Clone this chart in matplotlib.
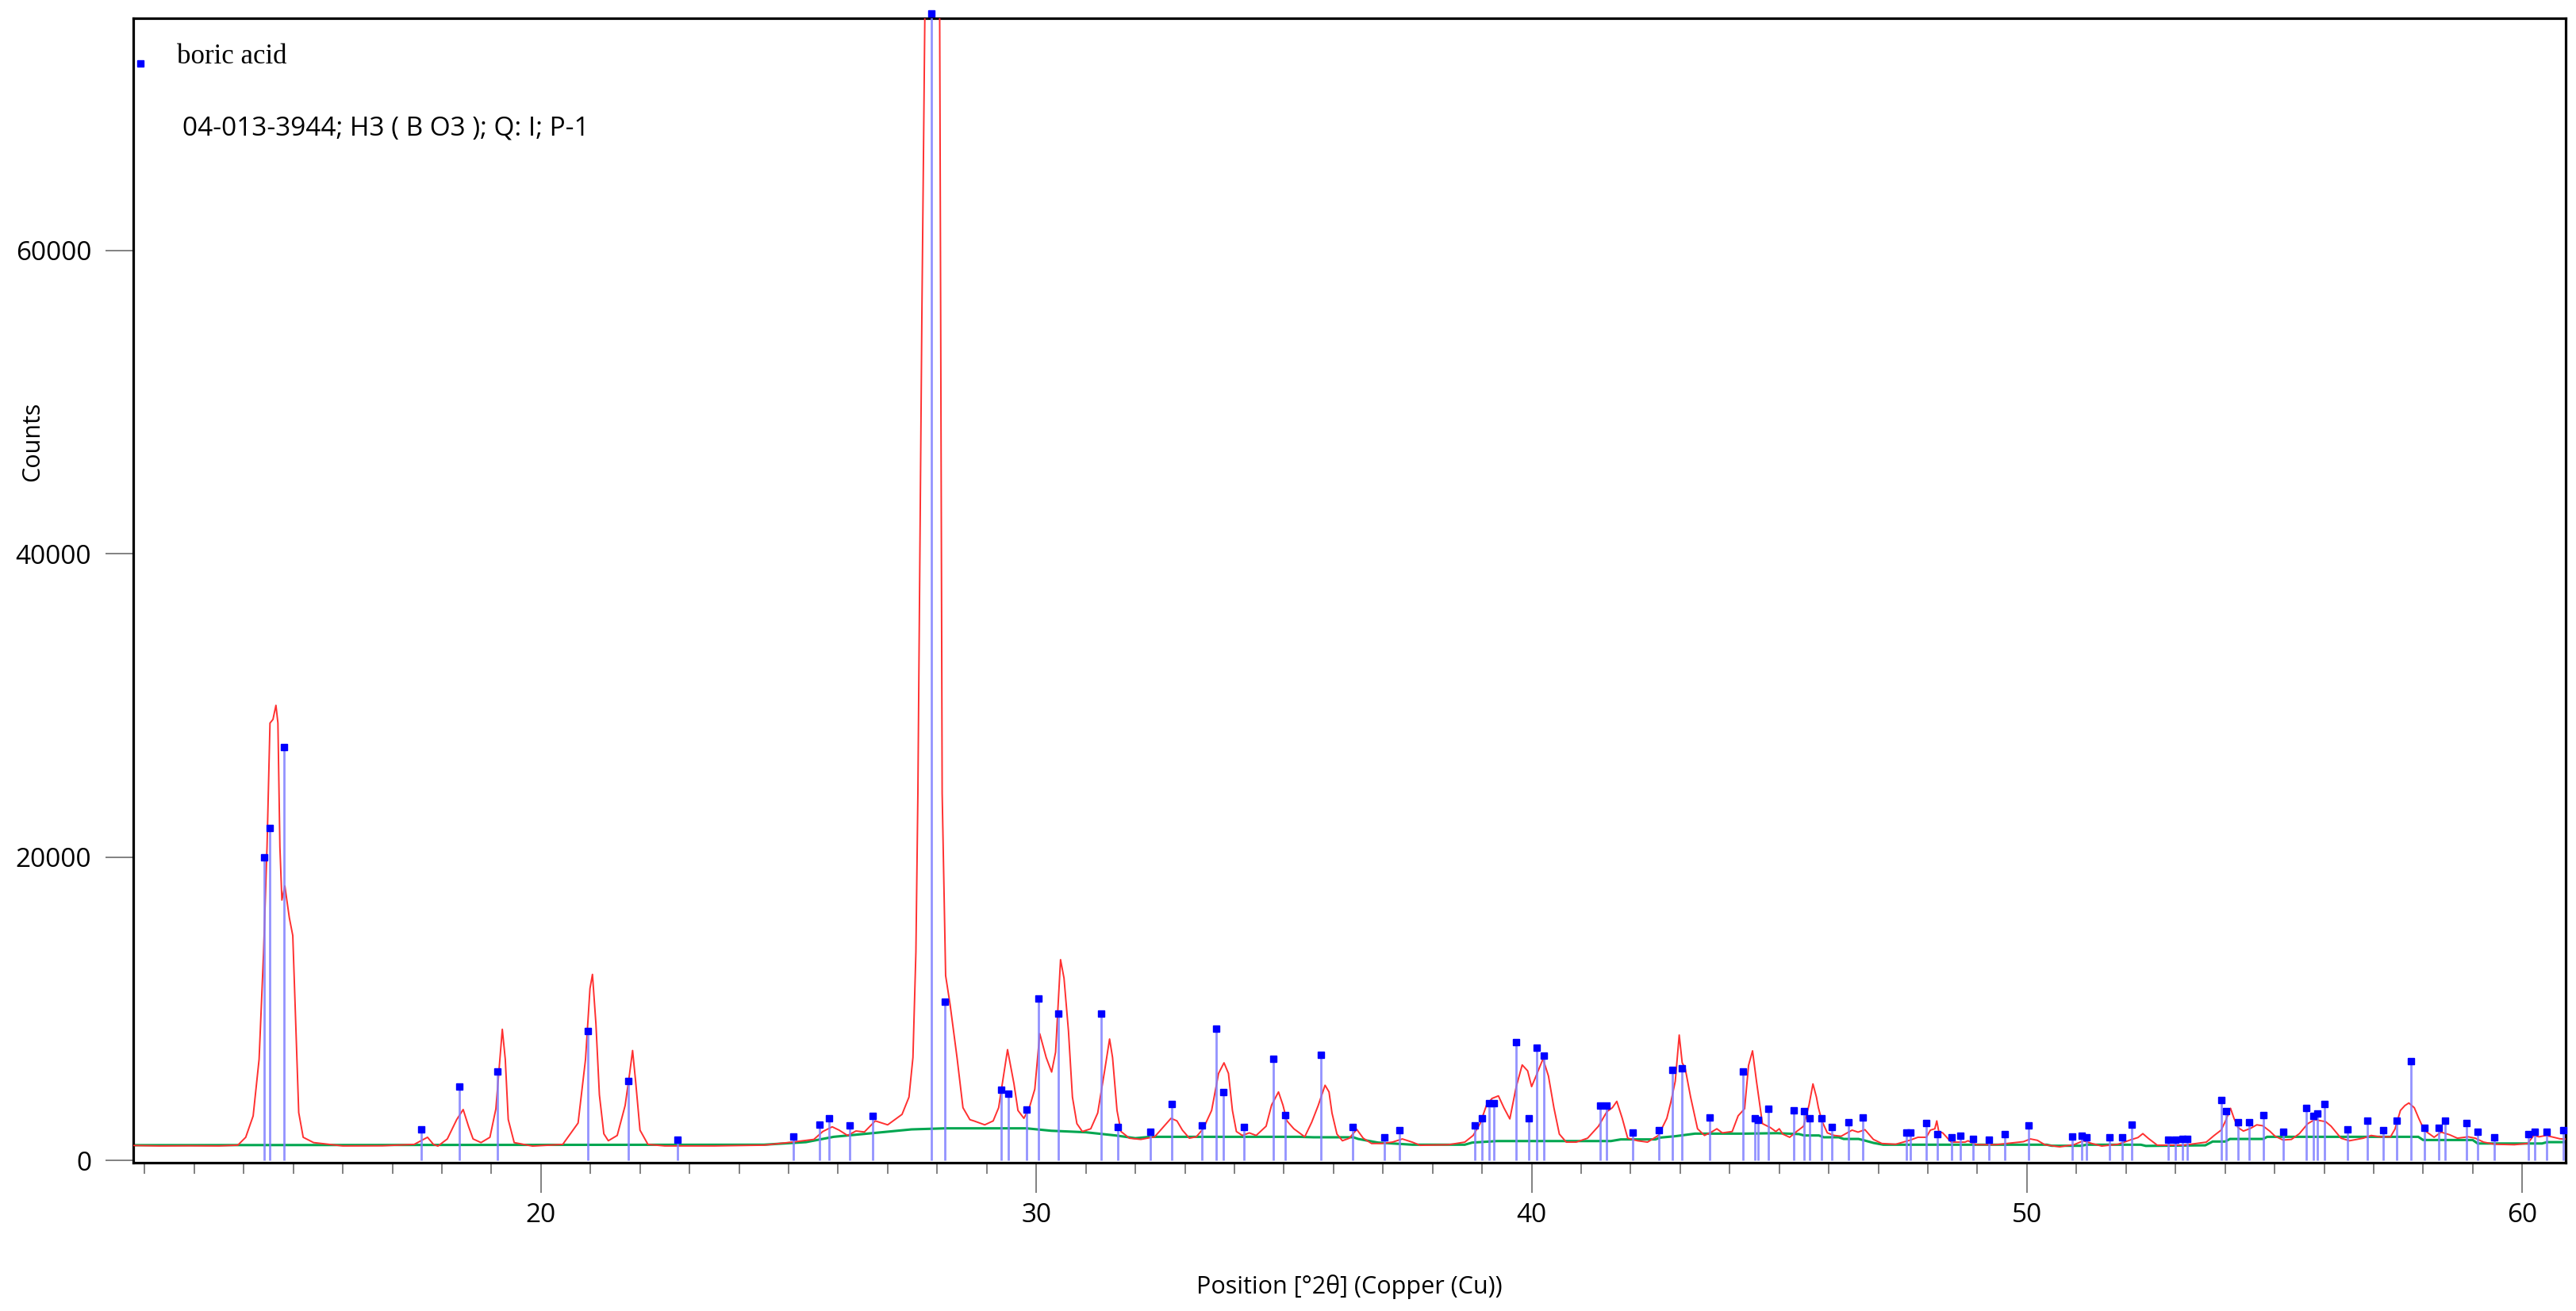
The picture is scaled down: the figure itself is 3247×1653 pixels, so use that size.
import matplotlib
matplotlib.use("Agg")
import matplotlib.pyplot as plt
from matplotlib.ticker import MultipleLocator, FixedLocator

# ---------------- data ----------------
# measured pattern (2theta, counts)
obs_x = [11.77, 12.3, 12.9, 13.5, 13.88, 14.04, 14.19, 14.31, 14.40, 14.47, 14.53, 14.59, 14.65,
         14.69, 14.73, 14.77, 14.83, 14.92, 14.99, 15.05, 15.11, 15.20, 15.41, 16.0, 16.8,
         17.44, 17.71, 17.83, 17.92, 18.11, 18.30, 18.43, 18.54, 18.63, 18.79, 18.97, 19.09,
         19.22, 19.28, 19.34, 19.46, 19.83, 20.44, 20.75, 20.90, 20.99, 21.04, 21.11, 21.18,
         21.27, 21.36, 21.54, 21.70, 21.79, 21.85, 21.91, 22.00, 22.16, 22.5, 23.5, 24.5,
         25.07, 25.51, 25.69, 25.88, 26.02, 26.19, 26.36, 26.53, 26.75, 27.00, 27.29, 27.43,
         27.51, 27.57, 27.61, 27.69, 27.75, 27.90, 28.05, 28.07, 28.10, 28.14, 28.17, 28.26,
         28.40, 28.52, 28.66, 28.74, 28.96, 29.13, 29.24, 29.33, 29.42, 29.49, 29.55, 29.63,
         29.75, 29.86, 29.97, 30.07, 30.20, 30.31, 30.39, 30.49, 30.56, 30.65, 30.73, 30.82,
         30.93, 31.10, 31.24, 31.38, 31.48, 31.54, 31.63, 31.71, 31.88, 32.11, 32.39, 32.58,
         32.72, 32.84, 32.95, 33.09, 33.23, 33.37, 33.54, 33.68, 33.79, 33.88, 33.96, 34.04,
         34.16, 34.30, 34.44, 34.64, 34.75, 34.89, 34.98, 35.06, 35.20, 35.42, 35.56, 35.69,
         35.83, 35.91, 35.97, 36.07, 36.18, 36.32, 36.47, 36.60, 36.77, 36.97, 37.19, 37.39,
         37.59, 37.75, 38.32, 38.65, 38.82, 38.96, 39.09, 39.20, 39.33, 39.44, 39.56, 39.69,
         39.81, 39.92, 40.00, 40.09, 40.23, 40.34, 40.45, 40.56, 40.70, 40.90, 41.13, 41.35,
         41.52, 41.63, 41.72, 41.83, 41.94, 42.14, 42.34, 42.56, 42.73, 42.81, 42.90, 42.98,
         43.04, 43.10, 43.21, 43.35, 43.49, 43.65, 43.74, 43.85, 44.05, 44.17, 44.30, 44.38,
         44.46, 44.54, 44.60, 44.66, 44.82, 44.93, 45.00, 45.07, 45.21, 45.35, 45.49, 45.60,
         45.68, 45.75, 45.79, 45.86, 45.97, 46.11, 46.25, 46.47, 46.59, 46.73, 46.90, 47.07,
         47.35, 47.63, 47.80, 47.97, 48.05, 48.14, 48.18, 48.22, 48.30, 48.47, 48.75, 48.81,
         48.98, 49.37, 49.60, 49.93, 50.07, 50.21, 50.36, 50.66, 50.95, 51.14, 51.31, 51.51,
         51.84, 52.12, 52.24, 52.34, 52.45, 52.63, 53.17, 53.62, 53.78, 53.92, 54.01, 54.11,
         54.18, 54.26, 54.37, 54.51, 54.64, 54.76, 54.90, 55.01, 55.17, 55.34, 55.50, 55.67,
         55.81, 56.03, 56.14, 56.34, 56.51, 56.79, 56.95, 57.12, 57.34, 57.43, 57.54, 57.63,
         57.71, 57.82, 57.91, 58.02, 58.22, 58.36, 58.53, 58.69, 58.91, 59.05, 59.22, 59.44,
         59.84, 60.11, 60.23, 60.34, 60.48, 60.76, 60.98]
obs_y = [980, 950, 960, 950, 1000, 1520, 2930, 6660, 13660, 20660, 28830, 29070, 30000,
         28830, 20660, 17160, 18090, 16000, 14820, 9000, 3150, 1520, 1170, 950, 960,
         1050, 1520, 1050, 940, 1410, 2690, 3350, 2220, 1410, 1170, 1520, 3390,
         8640, 6660, 2690, 1170, 940, 1050, 2460, 6660, 11330, 12260, 9000, 4320,
         1750, 1290, 1640, 3620, 5720, 7240, 5260, 1990, 1050, 950, 950, 1000,
         1200, 1380, 1900, 2210, 1990, 1640, 1935, 1870, 2600, 2340, 3030, 4170,
         6780, 13750, 24200, 55580, 75300, 100000, 75300, 55580, 24200, 17250, 12180, 10270,
         6780, 3470, 2680, 2600, 2340, 2600, 3470, 5390, 7300, 6080, 5040, 3290,
         2770, 3470, 4690, 8350, 6780, 5820, 7130, 13230, 12010, 8520, 4170, 2420,
         1900, 2080, 3120, 5910, 8000, 6780, 3290, 1900, 1460, 1380, 1550, 2250,
         2770, 2600, 1990, 1460, 1550, 2080, 3290, 5730, 6430, 5730, 3290, 1900,
         1640, 1810, 1640, 2250, 3640, 4510, 3640, 2600, 2080, 1550, 2510, 3600,
         4950, 4510, 3120, 1730, 1290, 1460, 2040, 1460, 1110, 1110, 1200, 1410,
         1200, 990, 1030, 1200, 1640, 2420, 3640, 4080, 4250, 3470, 2730, 4860,
         6290, 5900, 4860, 5560, 6690, 5560, 3470, 1730, 1200, 1200, 1460, 2250,
         3210, 3470, 3890, 2770, 1460, 1290, 1200, 1640, 2770, 3820, 5210, 8260,
         6430, 6070, 4170, 2080, 1640, 1900, 2080, 1810, 1900, 2940, 3400, 6260,
         7220, 5210, 3820, 2420, 2160, 1900, 2080, 1730, 1520, 1900, 2250, 3640,
         5040, 4170, 3470, 2600, 1810, 1640, 1590, 1990, 1860, 2020, 1380, 1110,
         1060, 1320, 1520, 1520, 1990, 2080, 2600, 1900, 1810, 1200, 1200, 1290,
         1030, 1030, 1110, 1230, 1410, 1320, 1030, 890, 1030, 1290, 1110, 940,
         1060, 1380, 1500, 1760, 1450, 1000, 1000, 1200, 1640, 1990, 2600, 3430,
         2770, 2160, 1930, 2100, 2340, 2280, 1930, 1590, 1340, 1380, 1760, 2420,
         2680, 2550, 2250, 1460, 1290, 1460, 1640, 1550, 1550, 2060, 3290, 3610,
         3780, 3470, 2770, 1990, 1520, 1860, 1690, 1460, 1550, 1460, 1200, 1060,
         1030, 1110, 1640, 1550, 1640, 1420, 1380]

# background
bkg_x = [11.77, 24.5, 25.35, 25.91, 26.75, 27.48, 28.16, 29.8, 30.3, 31.0, 31.6, 32.0, 32.3,
         35.3, 35.6, 36.4, 36.5, 36.9, 37.6, 38.65, 38.8, 39.3, 41.6, 41.8, 42.5, 42.6, 42.9,
         43.3, 44.3, 44.95, 45.4, 45.5, 45.8, 45.9, 46.2, 46.3, 46.6, 46.7, 46.9, 47.1, 50.4,
         50.5, 51.1, 51.2, 52.3, 52.4, 53.6, 53.75, 54.0, 54.1, 54.77, 54.85, 57.9, 58.0, 59.0,
         59.1, 60.4, 60.5, 60.87]
bkg_y = [1000, 1030, 1200, 1550, 1810, 2040, 2110, 2110, 1950, 1850, 1640, 1460, 1550,
         1550, 1520, 1520, 1410, 1170, 1030, 1030, 1170, 1270, 1270, 1380, 1380, 1500, 1590,
         1760, 1760, 1790, 1730, 1640, 1640, 1520, 1520, 1410, 1410, 1330, 1150, 1030, 1030,
         960, 960, 1030, 1030, 950, 990, 1240, 1240, 1410, 1410, 1550, 1550, 1340, 1340,
         1110, 1110, 1200, 1200]

# reference pattern 04-013-3944 (boric acid) stick positions and heights
ref_pos = [14.41, 14.53, 14.81, 17.59, 18.35, 19.12, 20.94, 21.76, 22.76, 25.10, 25.63, 25.81,
           26.23, 26.70, 27.88, 28.16, 29.29, 29.43, 29.80, 30.05, 30.44, 31.31, 31.65, 32.31,
           32.73, 33.35, 33.64, 33.77, 34.20, 34.79, 35.02, 35.75, 36.39, 37.03, 37.34, 38.85,
           38.99, 39.14, 39.24, 39.69, 39.94, 40.11, 40.25, 41.39, 41.51, 42.04, 42.57, 42.84,
           43.03, 43.60, 44.26, 44.50, 44.57, 44.78, 45.30, 45.50, 45.61, 45.86, 46.06, 46.39,
           46.68, 47.56, 47.65, 47.97, 48.19, 48.48, 48.65, 48.92, 49.23, 49.56, 50.03, 50.92,
           51.10, 51.20, 51.67, 51.93, 52.11, 52.86, 53.00, 53.14, 53.24, 53.93, 54.02, 54.26,
           54.48, 54.77, 55.17, 55.64, 55.79, 55.86, 56.00, 56.47, 56.88, 57.19, 57.47, 57.76,
           58.03, 58.32, 58.44, 58.88, 59.10, 59.43, 60.12, 60.25, 60.50, 60.83]
ref_int = [20000, 21900, 27270, 2055, 4884, 5840, 8510, 5210, 1340, 1590, 2370, 2770,
           2300, 2910, 75600, 10470, 4650, 4410, 3330, 10650, 9650, 9690, 2210, 1900,
           3700, 2300, 8680, 4500, 2210, 6710, 3000, 6940, 2210, 1500, 1970, 2320,
           2750, 3780, 3780, 7810, 2750, 7410, 6900, 3620, 3620, 1810, 1970, 5980,
           6070, 2840, 5840, 2750, 2680, 3380, 3310, 3240, 2750, 2750, 2210, 2510,
           2840, 1810, 1810, 2440, 1730, 1500, 1640, 1410, 1360, 1730, 2300, 1570,
           1640, 1520, 1500, 1500, 2370, 1340, 1340, 1410, 1410, 3990, 3260, 2510,
           2510, 2980, 1900, 3470, 2910, 3070, 3700, 2040, 2600, 1970, 2600, 6540,
           2130, 2130, 2600, 2440, 1880, 1500, 1740, 1900, 1900, 1990]

x_ticks = [20, 30, 40, 50, 60]
y_ticks = [0, 20000, 40000, 60000]
phase_name = "boric acid"
phase_info = "04-013-3944; H3 ( B O3 ); Q: I; P-1"
x_label = "Position [°2θ] (Copper (Cu))"
y_label = "Counts"

# ---------------- figure ----------------
W, H = 3247, 1653
fig = plt.figure(figsize=(W / 100, H / 100), dpi=100)
left, right, top, bottom = 168, 3233.6, 23, 1465.7
ax = fig.add_axes([left / W, (H - bottom) / H, (right - left) / W, (bottom - top) / H])

sans = ["Open Sans", "DejaVu Sans"]
serif = ["Liberation Serif", "DejaVu Serif"]

ax.plot(bkg_x, bkg_y, color="#00a650", lw=2.2, zorder=2, solid_joinstyle="miter")
ax.plot(obs_x, obs_y, color="#ff3030", lw=1.4, zorder=3)
ax.vlines(ref_pos, 0, ref_int, color="#8080ff", lw=2.0, alpha=0.85, zorder=4)
ax.plot(ref_pos, ref_int, ls="none", marker="s", ms=5.5, color="#0000ff", mec="#0000ff",
        zorder=5, clip_on=False)

ax.set_xlim(11.77, 60.87)
ax.set_ylim(-140, 75300)

ax.xaxis.set_major_locator(FixedLocator(x_ticks))
ax.xaxis.set_minor_locator(MultipleLocator(1))
ax.yaxis.set_major_locator(FixedLocator(y_ticks))
ax.tick_params(axis="x", which="major", direction="out", length=27, width=1.3, color="#777777",
               pad=9, labelsize=24)
ax.tick_params(axis="x", which="minor", direction="out", length=10, width=1.3, color="#777777")
ax.tick_params(axis="y", which="major", direction="out", length=25, width=1.3, color="#777777",
               pad=13, labelsize=24)
for lab in ax.get_xticklabels() + ax.get_yticklabels():
    lab.set_family(sans)

for s in ax.spines.values():
    s.set_linewidth(2.3)
    s.set_color("black")

ax.set_xlabel(x_label, family=sans, fontsize=22, va="center")
ax.xaxis.set_label_coords(0.5, -0.1085)
ax.set_ylabel(y_label, family=sans, fontsize=22)
ax.yaxis.set_label_coords(-0.0365, 0.63)

# phase legend
ax.plot([0.003], [0.9605], transform=ax.transAxes, ls="none", marker="s", ms=5.5,
        color="#0000ff", clip_on=False)
ax.text(0.0179, 0.9605, phase_name, transform=ax.transAxes, family=serif, fontsize=25,
        va="baseline", ha="left")
ax.text(0.0202, 0.8981, phase_info, transform=ax.transAxes, family=sans, fontsize=24,
        va="baseline", ha="left")

fig.savefig("out.png", dpi=100)
